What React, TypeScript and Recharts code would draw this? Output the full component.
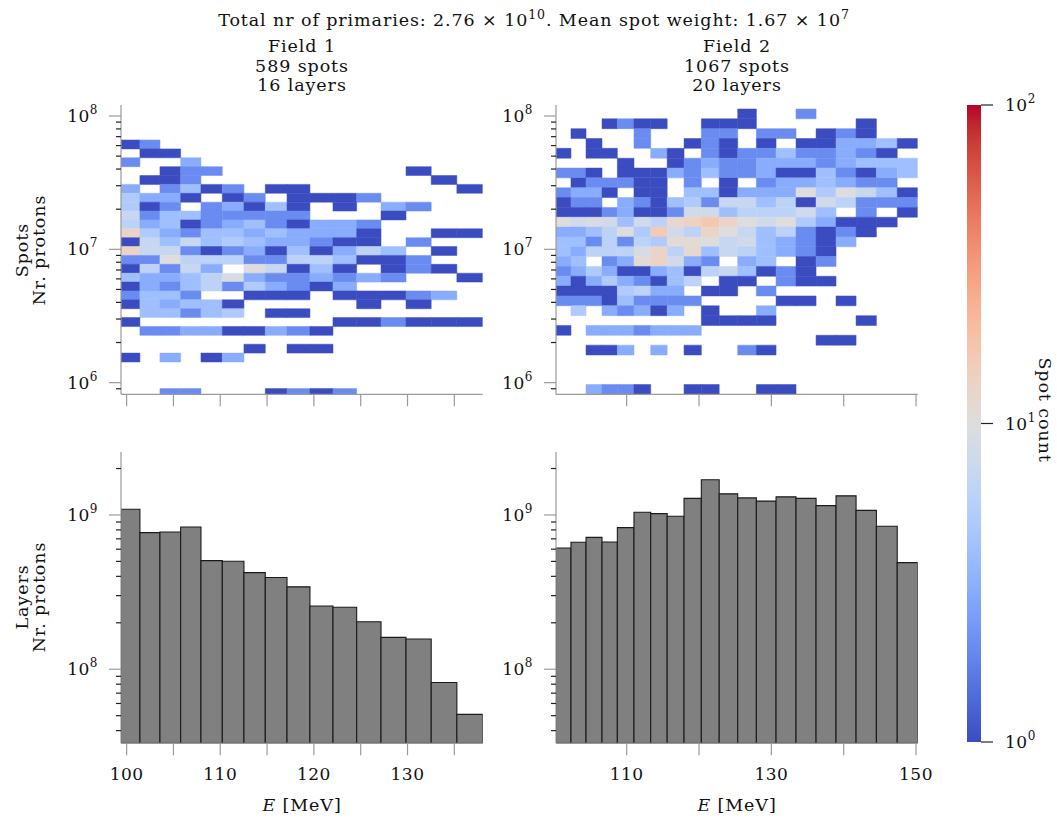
import React from 'react';
import { ComposedChart, XAxis, YAxis, ReferenceArea, Scatter } from 'recharts';

const W = 1057;
const H = 821;
const FONT = '"DejaVu Serif", serif';
const YW = 60; // y-axis band width
const XH = 50; // x-axis band height

// ---------------- data ----------------
// layer energy bin edges [MeV]
const field1EnergyEdges = [99.40, 101.42, 103.56, 105.77, 107.94, 110.22, 112.53, 114.81, 117.13, 119.58, 122.04, 124.57, 127.17, 129.84, 132.53, 135.27, 138.03];
const field2EnergyEdges = [100.23, 102.30, 104.38, 106.59, 108.71, 111.01, 113.32, 115.60, 117.93, 120.32, 122.79, 125.35, 127.93, 130.65, 133.41, 136.18, 138.94, 141.71, 144.52, 147.40, 150.23];

// protons per layer
const field1LayerProtons = [1.09e9, 7.68e8, 7.76e8, 8.36e8, 5.06e8, 5.01e8, 4.23e8, 3.93e8, 3.42e8, 2.57e8, 2.52e8, 2.03e8, 1.61e8, 1.57e8, 8.2e7, 5.1e7];
const field2LayerProtons = [6.11e8, 6.65e8, 7.16e8, 6.68e8, 8.28e8, 1.04e9, 1.02e9, 9.8e8, 1.28e9, 1.69e9, 1.37e9, 1.29e9, 1.23e9, 1.31e9, 1.28e9, 1.15e9, 1.33e9, 1.07e9, 8.45e8, 4.91e8];

// spot-weight bins (log10 of top edge, log10 bin width)
const field1SpotBinTopLog = 7.82;
const field1SpotBinWidthLog = 0.0666;
const field2SpotBinTopLog = 8.0525;
const field2SpotBinWidthLog = 0.0738;

// spot counts, rows from highest weight bin to lowest, columns = layers
const field1SpotCounts = [
  [1, 2, 0, 0, 0, 0, 0, 0, 0, 0, 0, 0, 0, 0, 0, 0],
  [0, 1, 1, 0, 0, 0, 0, 0, 0, 0, 0, 0, 0, 0, 0, 0],
  [2, 0, 0, 3, 0, 0, 0, 0, 0, 0, 0, 0, 0, 0, 0, 0],
  [0, 0, 1, 2, 2, 0, 0, 0, 0, 0, 0, 0, 0, 1, 0, 0],
  [0, 1, 1, 2, 0, 0, 0, 0, 0, 0, 0, 0, 0, 0, 1, 0],
  [3, 0, 2, 4, 1, 2, 0, 1, 1, 0, 0, 0, 0, 0, 0, 1],
  [5, 3, 3, 1, 0, 1, 2, 0, 1, 1, 1, 2, 0, 0, 0, 0],
  [5, 1, 2, 0, 2, 3, 1, 4, 1, 0, 1, 0, 3, 2, 0, 0],
  [7, 2, 4, 4, 2, 2, 2, 2, 2, 0, 0, 0, 1, 0, 0, 0],
  [6, 3, 4, 1, 2, 3, 4, 2, 1, 3, 3, 2, 0, 0, 0, 0],
  [13, 5, 3, 2, 4, 4, 3, 4, 3, 3, 3, 1, 0, 0, 1, 1],
  [1, 7, 4, 7, 4, 5, 4, 3, 3, 2, 1, 1, 0, 2, 0, 0],
  [13, 7, 7, 2, 1, 2, 3, 1, 4, 1, 3, 6, 4, 0, 1, 0],
  [2, 2, 10, 6, 6, 6, 2, 2, 6, 6, 4, 1, 1, 2, 0, 0],
  [1, 6, 2, 7, 3, 0, 10, 7, 1, 4, 1, 0, 1, 2, 1, 0],
  [4, 3, 3, 4, 6, 9, 3, 2, 2, 3, 2, 3, 2, 0, 0, 1],
  [1, 3, 2, 4, 6, 2, 5, 3, 2, 1, 3, 0, 0, 0, 0, 0],
  [2, 4, 4, 2, 0, 0, 1, 1, 1, 0, 1, 1, 1, 2, 3, 0],
  [1, 4, 3, 4, 4, 1, 0, 0, 0, 0, 0, 1, 0, 1, 0, 0],
  [0, 4, 4, 2, 4, 5, 0, 1, 1, 0, 0, 0, 0, 0, 0, 0],
  [1, 0, 0, 0, 0, 0, 0, 0, 0, 0, 1, 1, 2, 1, 1, 1],
  [0, 2, 2, 3, 3, 1, 1, 3, 2, 1, 0, 0, 0, 0, 0, 0],
  [0, 0, 0, 0, 0, 0, 0, 0, 0, 0, 0, 0, 0, 0, 0, 0],
  [0, 0, 0, 0, 0, 0, 1, 0, 1, 1, 0, 0, 0, 0, 0, 0],
  [1, 0, 3, 0, 1, 3, 0, 0, 0, 0, 0, 0, 0, 0, 0, 0],
  [0, 0, 0, 0, 0, 0, 0, 0, 0, 0, 0, 0, 0, 0, 0, 0],
  [0, 0, 0, 0, 0, 0, 0, 0, 0, 0, 0, 0, 0, 0, 0, 0],
  [0, 0, 0, 0, 0, 0, 0, 0, 0, 0, 0, 0, 0, 0, 0, 0],
  [0, 0, 2, 2, 0, 0, 0, 1, 2, 1, 2, 0, 0, 0, 0, 0],
];

const field2SpotCounts = [
  [0, 0, 0, 0, 0, 0, 0, 0, 0, 0, 0, 1, 0, 0, 2, 0, 0, 0, 0, 0],
  [0, 0, 0, 1, 2, 1, 1, 0, 0, 1, 1, 1, 0, 0, 0, 0, 0, 1, 0, 0],
  [0, 1, 0, 0, 0, 2, 0, 0, 0, 2, 2, 0, 2, 2, 0, 1, 2, 1, 0, 0],
  [0, 0, 1, 0, 0, 2, 0, 0, 1, 2, 1, 0, 1, 0, 1, 1, 3, 3, 4, 1],
  [1, 0, 1, 1, 0, 0, 3, 1, 0, 2, 1, 2, 2, 4, 2, 2, 3, 2, 1, 0],
  [0, 0, 0, 0, 1, 0, 0, 1, 2, 3, 2, 2, 3, 3, 3, 2, 3, 4, 4, 4],
  [2, 2, 1, 0, 1, 1, 1, 3, 2, 4, 2, 2, 3, 1, 1, 4, 2, 1, 3, 4],
  [0, 1, 2, 2, 2, 1, 1, 0, 2, 0, 1, 0, 2, 3, 3, 4, 3, 2, 2, 0],
  [2, 3, 3, 1, 0, 1, 1, 0, 4, 4, 1, 3, 3, 3, 10, 5, 10, 7, 4, 1],
  [1, 2, 2, 0, 3, 2, 1, 4, 5, 2, 7, 7, 4, 6, 1, 8, 6, 2, 2, 2],
  [1, 1, 1, 2, 3, 1, 1, 2, 8, 8, 4, 6, 6, 6, 8, 4, 0, 2, 0, 1],
  [10, 8, 9, 8, 4, 8, 6, 12, 14, 17, 13, 10, 8, 10, 5, 3, 1, 1, 1, 0],
  [3, 3, 4, 6, 10, 5, 16, 8, 6, 13, 10, 7, 4, 6, 2, 1, 2, 1, 0, 0],
  [4, 4, 2, 6, 2, 6, 5, 11, 11, 10, 7, 8, 4, 3, 2, 1, 3, 0, 0, 0],
  [4, 3, 6, 6, 6, 9, 13, 6, 12, 4, 7, 6, 4, 3, 2, 1, 0, 0, 0, 0],
  [3, 4, 0, 2, 3, 11, 13, 8, 3, 2, 0, 3, 4, 0, 1, 2, 0, 0, 0, 0],
  [2, 3, 5, 3, 1, 1, 3, 4, 1, 6, 7, 4, 1, 2, 1, 0, 0, 0, 0, 0],
  [3, 1, 3, 5, 3, 2, 1, 4, 6, 0, 1, 1, 0, 2, 1, 1, 0, 0, 0, 0],
  [1, 1, 1, 1, 5, 6, 3, 3, 0, 1, 1, 0, 2, 0, 0, 0, 0, 0, 0, 0],
  [2, 2, 2, 1, 4, 2, 2, 2, 2, 0, 0, 0, 0, 1, 1, 0, 1, 0, 0, 0],
  [0, 5, 0, 3, 2, 3, 1, 3, 0, 1, 0, 0, 3, 0, 0, 0, 0, 0, 0, 0],
  [0, 0, 0, 0, 0, 0, 0, 0, 0, 1, 1, 1, 1, 0, 0, 0, 0, 1, 0, 0],
  [1, 0, 3, 3, 3, 2, 3, 3, 3, 0, 0, 0, 0, 0, 0, 0, 0, 0, 0, 0],
  [0, 0, 0, 0, 0, 0, 0, 0, 0, 0, 0, 0, 0, 0, 0, 1, 1, 0, 0, 0],
  [0, 0, 1, 1, 3, 0, 3, 0, 1, 0, 0, 2, 1, 0, 0, 0, 0, 0, 0, 0],
  [0, 0, 0, 0, 0, 0, 0, 0, 0, 0, 0, 0, 0, 0, 0, 0, 0, 0, 0, 0],
  [0, 0, 0, 0, 0, 0, 0, 0, 0, 0, 0, 0, 0, 0, 0, 0, 0, 0, 0, 0],
  [0, 0, 0, 0, 0, 0, 0, 0, 0, 0, 0, 0, 0, 0, 0, 0, 0, 0, 0, 0],
  [0, 0, 3, 2, 2, 1, 0, 0, 1, 1, 0, 0, 1, 1, 0, 0, 0, 0, 0, 0],
];

// axis ticks
const spotTicks = [9e5, 1e6, 2e6, 3e6, 4e6, 5e6, 6e6, 7e6, 8e6, 9e6, 1e7, 2e7, 3e7, 4e7, 5e7, 6e7, 7e7, 8e7, 9e7, 1e8];
const layerTicks = [4e7, 5e7, 6e7, 7e7, 8e7, 9e7, 1e8, 2e8, 3e8, 4e8, 5e8, 6e8, 7e8, 8e8, 9e8, 1e9, 2e9];
const field1XTicks = [100, 105, 110, 115, 120, 125, 130, 135];
const field1XLabels = [100, 110, 120, 130];
const field2XTicks = [110, 120, 130, 140, 150];
const field2XLabels = [110, 130, 150];
const colorbarTicks = [1, 10, 100];

const spotDomain: [number, number] = [Math.pow(10, 5.9126), Math.pow(10, 8.0825)];
const layerDomain: [number, number] = [Math.pow(10, 7.52), Math.pow(10, 9.408)];
const field1XDomain: [number, number] = [99.40, 138.03];
const field2XDomain: [number, number] = [100.23, 150.23];

// ---------------- styling helpers ----------------
const COOLWARM = [
  [59, 76, 192], [68, 90, 204], [77, 104, 215], [87, 117, 225], [98, 130, 234], [108, 142, 241],
  [119, 154, 247], [130, 165, 251], [141, 176, 254], [152, 185, 255], [163, 194, 255], [174, 201, 253],
  [184, 208, 249], [194, 213, 244], [204, 217, 238], [213, 219, 230], [221, 221, 221], [229, 216, 209],
  [236, 211, 197], [241, 204, 185], [245, 196, 173], [247, 187, 160], [247, 177, 148], [247, 166, 135],
  [244, 154, 123], [241, 141, 111], [236, 127, 99], [229, 112, 88], [222, 96, 77], [213, 80, 66],
  [203, 62, 56], [192, 40, 47], [180, 4, 38],
];
function coolwarm(t: number): string {
  const tt = Math.max(0, Math.min(1, t)) * (COOLWARM.length - 1);
  const i = Math.min(COOLWARM.length - 2, Math.floor(tt));
  const f = tt - i;
  const c = COOLWARM[i].map((v, k) => Math.round(v + (COOLWARM[i + 1][k] - v) * f));
  return `rgb(${c[0]},${c[1]},${c[2]})`;
}

const AX = '#9a9a9a';
const TICK_FS = 17;
const SUP_FS = 12;

const LogYTick = (props: any) => {
  const { x, y, payload } = props;
  const lv = Math.log10(payload.value);
  const e = Math.round(lv);
  const major = Math.abs(lv - e) < 1e-6;
  if (!major) {
    return <line x1={x - 5} x2={x} y1={y} y2={y} stroke="#222" strokeWidth={1.2} />;
  }
  return (
    <g>
      <line x1={x - 12} x2={x} y1={y} y2={y} stroke={AX} strokeWidth={1.2} />
      <text x={x - 23} y={y + 6} textAnchor="end" fontFamily={FONT} fontSize={TICK_FS} letterSpacing={0.5} fill="#111">
        10<tspan dy={-8} fontSize={SUP_FS}>{e}</tspan>
      </text>
    </g>
  );
};

const makeXTick = (labels: number[]) => (props: any) => {
  const { x, y, payload } = props;
  const show = labels.indexOf(payload.value) >= 0;
  return (
    <g>
      <line x1={x} x2={x} y1={y} y2={y + 12} stroke={AX} strokeWidth={1.2} />
      {show ? (
        <text x={x} y={y + 37} textAnchor="middle" fontFamily={FONT} fontSize={TICK_FS} letterSpacing={0.5} fill="#111">
          {payload.value}
        </text>
      ) : null}
    </g>
  );
};

const ColorbarTick = (props: any) => {
  const { x, y, payload } = props;
  const e = Math.round(Math.log10(payload.value));
  return (
    <g>
      <line x1={x} x2={x + 12} y1={y} y2={y} stroke="#222" strokeWidth={1.2} />
      <text x={x + 24} y={y + 6} textAnchor="start" fontFamily={FONT} fontSize={TICK_FS} letterSpacing={0.5} fill="#111">
        10<tspan dy={-8} fontSize={SUP_FS}>{e}</tspan>
      </text>
    </g>
  );
};

type Cell = { x1: number; x2: number; y1: number; y2: number; c: number; cx: number; cy: number };
function buildCells(edges: number[], topLog: number, stepLog: number, counts: number[][]): Cell[] {
  const out: Cell[] = [];
  counts.forEach((row, r) => {
    row.forEach((c, i) => {
      if (c > 0) {
        const lo = topLog - (r + 1) * stepLog;
        const hi = topLog - r * stepLog;
        out.push({
          x1: edges[i], x2: edges[i + 1], y1: Math.pow(10, lo), y2: Math.pow(10, hi), c,
          cx: (edges[i] + edges[i + 1]) / 2, cy: Math.pow(10, (lo + hi) / 2),
        });
      }
    });
  });
  return out;
}

const Invisible = () => <g />;

const margins = (x0: number, x1: number, y0: number, y1: number) => ({
  left: x0 - YW, top: y0, right: W - x1, bottom: H - y1 - XH,
});

function HeatPanel(p: { x0: number; x1: number; y0: number; y1: number; edges: number[]; topLog: number; stepLog: number; counts: number[][]; xDomain: [number, number]; xTicks: number[] }) {
  const cells = buildCells(p.edges, p.topLog, p.stepLog, p.counts);
  const pts = cells.map((d) => ({ x: d.cx, y: d.cy }));
  return (
    <div style={{ position: 'absolute', left: 0, top: 0 }}>
      <ComposedChart width={W} height={H} margin={margins(p.x0, p.x1, p.y0, p.y1)}>
        <XAxis type="number" dataKey="x" domain={p.xDomain} allowDataOverflow ticks={p.xTicks} interval={0}
          height={XH} tickSize={0} tickMargin={0} tickLine={false} axisLine={{ stroke: AX, strokeWidth: 1.2 }} tick={makeXTick([])} />
        <YAxis type="number" dataKey="y" scale="log" domain={spotDomain} allowDataOverflow ticks={spotTicks} interval={0}
          width={YW} tickSize={0} tickMargin={0} tickLine={false} axisLine={{ stroke: AX, strokeWidth: 1.2 }} tick={<LogYTick />} />
        {cells.map((d, k) => {
          const col = coolwarm(Math.log10(d.c) / 2);
          return (
            <ReferenceArea key={k} x1={d.x1} x2={d.x2} y1={d.y1} y2={d.y2} fill={col} fillOpacity={1}
              stroke={col} strokeWidth={0.5} ifOverflow="hidden" />
          );
        })}
        <Scatter data={pts} isAnimationActive={false} shape={<Invisible />} legendType="none" />
      </ComposedChart>
    </div>
  );
}

function HistPanel(p: { x0: number; x1: number; y0: number; y1: number; edges: number[]; values: number[]; xDomain: [number, number]; xTicks: number[]; xLabels: number[] }) {
  const bars = p.values.map((v, i) => ({ x1: p.edges[i], x2: p.edges[i + 1], v }));
  const pts = bars.map((b) => ({ x: (b.x1 + b.x2) / 2, y: b.v }));
  return (
    <div style={{ position: 'absolute', left: 0, top: 0 }}>
      <ComposedChart width={W} height={H} margin={margins(p.x0, p.x1, p.y0, p.y1)}>
        <XAxis type="number" dataKey="x" domain={p.xDomain} allowDataOverflow ticks={p.xTicks} interval={0}
          height={XH} tickSize={0} tickMargin={0} tickLine={false} axisLine={{ stroke: AX, strokeWidth: 1.2 }} tick={makeXTick(p.xLabels)} />
        <YAxis type="number" dataKey="y" scale="log" domain={layerDomain} allowDataOverflow ticks={layerTicks} interval={0}
          width={YW} tickSize={0} tickMargin={0} tickLine={false} axisLine={{ stroke: AX, strokeWidth: 1.2 }} tick={<LogYTick />} />
        {bars.map((b, k) => (
          <ReferenceArea key={k} x1={b.x1} x2={b.x2} y1={layerDomain[0]} y2={b.v} fill="#808080" fillOpacity={1}
            stroke="#1a1a1a" strokeWidth={1.1} ifOverflow="hidden" />
        ))}
        <Scatter data={pts} isAnimationActive={false} shape={<Invisible />} legendType="none" />
      </ComposedChart>
    </div>
  );
}

function Colorbar() {
  const x0 = 967, x1 = 981, y0 = 105, y1 = 742;
  return (
    <div style={{ position: 'absolute', left: 0, top: 0 }}>
      <ComposedChart width={W} height={H} margin={{ left: x0, top: y0, right: W - x1 - YW, bottom: H - y1 }}>
        <XAxis type="number" dataKey="x" domain={[0, 1]} hide height={0} />
        <YAxis type="number" dataKey="y" orientation="right" scale="log" domain={[1, 100]} allowDataOverflow ticks={colorbarTicks}
          interval={0} width={YW} tickSize={0} tickMargin={0} tickLine={false} axisLine={false} tick={<ColorbarTick />} />
        <ReferenceArea x1={0} x2={1} y1={1} y2={100} fill="url(#coolwarmGrad)" fillOpacity={1} stroke="none" ifOverflow="visible" />
        <Scatter data={[{ x: 0.5, y: 1 }, { x: 0.5, y: 100 }]} isAnimationActive={false} shape={<Invisible />} legendType="none" />
      </ComposedChart>
    </div>
  );
}

export default function App() {
  const tx = { fontFamily: FONT, fontSize: 17.5, fill: '#111', letterSpacing: 0.9 } as const;
  return (
    <div style={{ position: 'absolute', left: 0, top: 0, width: W, height: H, background: '#fff', overflow: 'hidden' }}>
      <svg width={0} height={0} style={{ position: 'absolute' }}>
        <defs>
          <linearGradient id="coolwarmGrad" x1="0" y1="1" x2="0" y2="0">
            {COOLWARM.map((c, i) => (
              <stop key={i} offset={i / (COOLWARM.length - 1)} stopColor={`rgb(${c[0]},${c[1]},${c[2]})`} />
            ))}
          </linearGradient>
        </defs>
      </svg>

      <HeatPanel x0={121} x1={482.7} y0={105} y1={394.3} edges={field1EnergyEdges} topLog={field1SpotBinTopLog}
        stepLog={field1SpotBinWidthLog} counts={field1SpotCounts} xDomain={field1XDomain} xTicks={field1XTicks} />
      <HeatPanel x0={556} x1={917.7} y0={105} y1={394.3} edges={field2EnergyEdges} topLog={field2SpotBinTopLog}
        stepLog={field2SpotBinWidthLog} counts={field2SpotCounts} xDomain={field2XDomain} xTicks={field2XTicks} />
      <HistPanel x0={121} x1={482.7} y0={452} y1={743.3} edges={field1EnergyEdges} values={field1LayerProtons}
        xDomain={field1XDomain} xTicks={field1XTicks} xLabels={field1XLabels} />
      <HistPanel x0={556} x1={917.7} y0={452} y1={743.3} edges={field2EnergyEdges} values={field2LayerProtons}
        xDomain={field2XDomain} xTicks={field2XTicks} xLabels={field2XLabels} />
      <Colorbar />

      <svg width={W} height={H} style={{ position: 'absolute', left: 0, top: 0, pointerEvents: 'none' }}>
        <text x={534} y={26} textAnchor="middle" {...tx}>
          Total nr of primaries: 2.76 × 10<tspan dy={-7} fontSize={12.5}>10</tspan>
          <tspan dy={7}>. Mean spot weight: 1.67 × 10</tspan><tspan dy={-7} fontSize={12.5}>7</tspan>
        </text>
        <text x={302} y={52} textAnchor="middle" {...tx}>Field 1</text>
        <text x={302} y={72} textAnchor="middle" {...tx}>589 spots</text>
        <text x={302} y={91} textAnchor="middle" {...tx}>16 layers</text>
        <text x={737} y={52} textAnchor="middle" {...tx}>Field 2</text>
        <text x={737} y={72} textAnchor="middle" {...tx}>1067 spots</text>
        <text x={737} y={91} textAnchor="middle" {...tx}>20 layers</text>

        <text transform="translate(28,250) rotate(-90)" textAnchor="middle" {...tx}>Spots</text>
        <text transform="translate(45,250) rotate(-90)" textAnchor="middle" {...tx}>Nr. protons</text>
        <text transform="translate(28,597) rotate(-90)" textAnchor="middle" {...tx}>Layers</text>
        <text transform="translate(45,597) rotate(-90)" textAnchor="middle" {...tx}>Nr. protons</text>

        <text x={302} y={811} textAnchor="middle" {...tx}><tspan fontStyle="italic">E</tspan> [MeV]</text>
        <text x={737} y={811} textAnchor="middle" {...tx}><tspan fontStyle="italic">E</tspan> [MeV]</text>

        <text transform="translate(1039,410) rotate(90)" textAnchor="middle" {...tx}>Spot count</text>
      </svg>
    </div>
  );
}
